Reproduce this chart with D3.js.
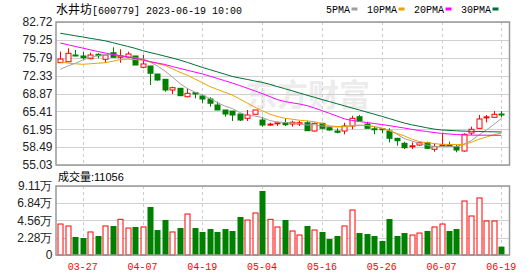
<!DOCTYPE html>
<html><head><meta charset="utf-8">
<script src="https://cdn.jsdelivr.net/npm/d3@7"></script>
<style>body{margin:0;background:#fff}svg{display:block}</style>
</head><body><svg id="c" width="530" height="276"></svg>
<script>
const dates = ["03-22","03-23","03-24","03-27","03-28","03-29","03-30","03-31","04-03","04-04","04-06","04-07","04-10","04-11","04-12","04-13","04-14","04-17","04-18","04-19","04-20","04-21","04-24","04-25","04-26","04-27","04-28","05-04","05-05","05-08","05-09","05-10","05-11","05-12","05-15","05-16","05-17","05-18","05-19","05-22","05-23","05-24","05-25","05-26","05-29","05-30","05-31","06-01","06-02","06-05","06-06","06-07","06-08","06-09","06-12","06-13","06-14","06-15","06-16","06-19"];
const open  = [74.84,75.03,76.33,76.14,75.61,76.46,75.50,76.78,75.88,75.88,76.14,73.95,74.20,72.65,71.62,69.55,69.88,68.25,69.03,68.39,67.81,66.65,65.68,65.48,64.90,64.07,64.85,63.74,62.85,63.05,63.22,62.97,62.97,63.22,61.61,63.10,62.26,61.61,61.61,62.58,64.38,62.97,62.05,62.05,61.61,60.20,59.23,58.60,58.90,59.35,58.07,58.85,58.95,58.57,57.74,61.22,62.13,64.20,64.26,64.90];
const close = [75.55,76.66,76.14,75.81,76.33,76.19,76.33,75.88,76.14,76.52,74.39,74.59,72.79,71.49,69.55,70.00,68.45,68.91,68.78,67.81,66.98,65.68,64.90,64.71,63.74,64.71,65.68,62.77,62.95,63.20,62.83,63.30,63.22,61.67,63.10,62.13,61.81,61.36,62.58,64.07,63.61,62.13,61.95,61.95,60.20,59.73,58.38,58.75,59.35,58.26,58.57,58.95,58.85,57.93,60.97,61.94,63.94,64.35,64.85,64.80];
const high  = [76.97,77.63,77.30,76.97,76.78,76.66,76.33,77.82,77.43,76.97,76.14,76.33,74.20,72.65,71.62,70.19,69.88,69.88,69.03,68.72,68.14,67.29,65.68,65.48,64.90,65.68,65.68,64.38,63.22,63.41,64.07,63.61,63.61,63.61,63.22,63.22,62.45,62.13,63.22,64.57,64.71,63.41,62.58,62.13,62.13,60.20,59.54,59.42,59.54,59.54,59.23,61.16,59.54,58.90,61.16,62.45,64.71,64.71,65.48,65.48];
const low   = [74.84,75.00,76.10,75.36,75.50,75.70,74.84,75.88,74.84,75.69,74.39,73.75,70.52,71.35,69.22,68.78,68.45,68.14,67.94,66.98,66.32,65.68,64.38,63.55,63.55,63.55,64.85,62.45,62.58,62.58,62.58,62.45,62.58,61.67,61.48,61.94,61.67,61.16,60.97,61.94,63.61,62.13,60.97,61.16,59.39,58.77,58.13,58.13,58.71,58.13,57.60,58.71,58.57,57.49,57.60,60.84,62.13,63.30,64.26,64.26];
const volume = [4.09,3.83,2.38,2.24,3.04,2.51,3.83,3.83,4.71,3.56,3.70,3.70,6.34,3.30,4.62,3.04,3.56,5.41,3.56,3.04,3.43,3.04,3.43,3.17,5.02,4.62,5.55,8.45,4.71,3.70,4.62,3.17,2.64,3.83,3.30,3.04,2.11,2.51,3.83,5.94,2.90,2.77,2.51,1.85,4.75,2.51,2.90,2.64,2.90,3.17,3.70,4.09,3.17,3.43,7.13,5.15,7.53,4.49,4.49,1.1056];
const ma5  = [73.56,74.20,74.72,75.36,75.85,76.23,76.37,76.43,76.17,75.94,75.79,75.65,74.97,74.20,73.23,72.07,70.81,69.84,69.16,68.58,67.91,67.13,66.45,65.97,65.19,64.61,64.52,64.23,63.65,63.36,63.26,63.16,63.06,62.77,62.81,62.58,62.48,62.39,62.43,62.68,62.74,62.68,62.48,62.19,61.71,61.03,60.16,59.68,59.29,58.90,58.61,58.61,58.61,58.61,59.09,59.77,60.84,61.81,62.87,64.03];
const ma10 = [74.97,74.78,74.63,74.53,74.63,74.74,74.84,75.11,75.44,75.52,75.44,75.32,75.01,74.66,74.32,73.66,72.98,72.42,71.68,70.98,70.23,69.67,69.13,68.58,67.81,67.03,66.26,65.56,64.90,64.44,64.09,63.90,63.70,63.57,63.41,63.06,62.62,62.48,62.52,62.58,62.70,62.72,62.44,62.14,61.71,61.15,60.68,60.06,59.56,59.37,59.19,59.04,59.02,59.00,59.00,59.44,60.01,60.45,60.88,61.22];
const ma20 = [78.65,78.32,77.99,77.67,77.34,77.01,76.72,76.45,76.21,75.98,75.69,75.40,75.05,74.78,74.49,74.10,73.73,73.37,73.02,72.67,72.24,71.80,71.35,70.91,70.42,69.90,69.40,68.87,68.29,67.71,67.33,67.07,66.84,66.53,66.07,65.56,65.04,64.52,63.97,63.65,63.45,63.26,63.06,62.87,62.66,62.43,62.19,61.94,61.71,61.52,61.32,61.15,61.03,60.93,60.84,60.82,60.80,60.80,60.78,60.78];
const ma30 = [80.53,80.30,80.05,79.82,79.56,79.33,79.08,78.73,78.36,78.00,77.63,77.18,76.81,76.47,76.10,75.75,75.34,74.90,74.41,73.93,73.50,73.06,72.63,72.17,71.88,71.60,71.31,71.04,70.66,70.23,69.82,69.40,68.97,68.54,68.14,67.71,67.31,66.90,66.49,66.09,65.68,65.27,64.87,64.46,64.03,63.59,63.16,62.81,62.54,62.25,61.98,61.81,61.73,61.65,61.59,61.55,61.52,61.48,61.46,61.42];
const priceTicks = [82.72,79.25,75.79,72.33,68.87,65.41,61.95,58.49,55.03];
const volumeTicks = [0,2.28,4.56,6.84,9.11];
const dateTicks = ["03-27","04-07","04-19","05-04","05-16","05-26","06-07","06-19"];
const maNames = ["5PMA","10PMA","20PMA","30PMA"];
const title = "水井坊[600779] 2023-06-19 10:00";
const lastVolume = "11056";

const RED = "#ff0000", GREEN = "#008000";
const maColors = ["#a0a0a0","#f0a000","#ff00ff","#006f35"];
const L = 56, R = 509.5, PT = 22, PB = 165, VT = 186, VB = 255;
const svg = d3.select("#c");
const x = d3.scalePoint().domain(dates).range([60.3, 501.3]);
const y = d3.scaleLinear().domain([55.03, 82.72]).range([PB, PT]);
const yv = d3.scaleLinear().domain([0, 9.11]).range([VB, VT]);
const mono = "'Liberation Mono','DejaVu Sans Mono',monospace";
const cjk = "'Noto Sans CJK SC',sans-serif";
const sans = "'Liberation Sans',Arial,sans-serif";

// watermark
svg.append("text").attr("x", 246).attr("y", 106).attr("font-family", cjk).attr("font-weight", "bold")
  .attr("font-size", 31).attr("fill", "#ececec").text("东方财富");

// grids
function hgrid(scale, ticks) {
  svg.append("g").selectAll("line").data(ticks).join("line")
    .attr("x1", L).attr("x2", R).attr("y1", d => Math.round(scale(d)) + 0.5).attr("y2", d => Math.round(scale(d)) + 0.5)
    .attr("stroke", "#d0d0d0").attr("stroke-width", 1);
}
hgrid(y, priceTicks);
hgrid(yv, volumeTicks);
[[PT, PB], [VT, VB]].forEach(([t, b]) => {
  svg.append("g").selectAll("line").data(dateTicks).join("line")
    .attr("x1", d => Math.round(x(d)) + 0.5).attr("x2", d => Math.round(x(d)) + 0.5)
    .attr("y1", t).attr("y2", b).attr("stroke", "#cccccc").attr("stroke-dasharray", "3,3");
});

// candles
const idx = d3.range(dates.length);
const cg = svg.append("g");
idx.forEach(i => {
  const up = close[i] >= open[i];
  const col = up ? RED : GREEN;
  const cx = Math.round(x(dates[i])) + 0.5;
  const top = y(Math.max(open[i], close[i])), bot = y(Math.min(open[i], close[i]));
  cg.append("line").attr("x1", cx).attr("x2", cx).attr("y1", y(high[i])).attr("y2", y(low[i])).attr("stroke", col);
  const h = Math.max(bot - top, 1);
  if (up) {
    cg.append("rect").attr("x", cx - 2.5).attr("y", top).attr("width", 5).attr("height", h)
      .attr("fill", "#fff").attr("stroke", col).attr("stroke-width", 1);
  } else {
    cg.append("rect").attr("x", cx - 3).attr("y", top - 0.5).attr("width", 6).attr("height", h + 1).attr("fill", col);
  }
});

// MA lines
svg.append("clipPath").attr("id", "pc").append("rect").attr("x", L).attr("y", PT).attr("width", R - L).attr("height", PB - PT);
[ma5, ma10, ma20, ma30].forEach((arr, k) => {
  const line = d3.line().x((d, i) => x(dates[i])).y(d => y(d));
  svg.append("path").attr("d", line(arr)).attr("fill", "none").attr("stroke", maColors[k])
    .attr("stroke-width", 1).attr("clip-path", "url(#pc)");
});

// volume bars
const vg = svg.append("g");
idx.forEach(i => {
  const up = close[i] >= open[i];
  const cx = Math.round(x(dates[i])) + 0.5;
  if (up) {
    vg.append("rect").attr("x", cx - 2.5).attr("y", yv(volume[i])).attr("width", 5).attr("height", VB - yv(volume[i]))
      .attr("fill", "#fff").attr("stroke", RED).attr("stroke-width", 1);
  } else {
    vg.append("rect").attr("x", cx - 3).attr("y", yv(volume[i])).attr("width", 6).attr("height", VB - yv(volume[i])).attr("fill", GREEN);
  }
});

// frames
[[PT, PB], [VT, VB]].forEach(([t, b]) => {
  svg.append("rect").attr("x", L).attr("y", t).attr("width", R - L).attr("height", b - t)
    .attr("fill", "none").attr("stroke", "#999").attr("stroke-width", 1.5);
});

// axes labels
svg.append("g").selectAll("text").data(priceTicks).join("text")
  .attr("x", 52.5).attr("y", d => y(d) + 4.3).attr("text-anchor", "end")
  .attr("font-family", sans).attr("font-size", 12).attr("fill", "#222").text(d => d.toFixed(2));
svg.append("g").selectAll("text").data(volumeTicks).join("text")
  .attr("x", 52.5).attr("y", d => yv(d) + 4.3).attr("text-anchor", "end")
  .attr("font-family", sans).attr("font-size", 12).attr("fill", "#222")
  .text(d => d === 0 ? "0" : d.toFixed(2) + "万");
svg.append("g").selectAll("text").data(dateTicks).join("text")
  .attr("x", d => x(d)).attr("y", 270).attr("text-anchor", "middle")
  .attr("font-family", mono).attr("font-size", 10).attr("fill", RED).text(d => d);

// title
const t = svg.append("text").attr("x", 56).attr("y", 14).attr("fill", "#000");
t.append("tspan").attr("font-family", cjk).attr("font-size", 12).text(title.slice(0, 3));
t.append("tspan").attr("font-family", mono).attr("font-size", 10).text(title.slice(3));

// legend
const lg = svg.append("g");
let lx = 326;
maNames.forEach((n, k) => {
  lg.append("text").attr("x", lx).attr("y", 13).attr("font-family", mono).attr("font-size", 10).attr("fill", "#000").text(n);
  const w = n.length * 6;
  lg.append("rect").attr("x", lx + w + 1.5).attr("y", 7.5).attr("width", 6).attr("height", 3).attr("fill", maColors[k]);
  lx += w + 17;
});

// volume title
const vt = svg.append("text").attr("x", 58).attr("y", 181).attr("fill", "#000");
vt.append("tspan").attr("font-family", cjk).attr("font-size", 11).text("成交量");
vt.append("tspan").attr("font-family", sans).attr("font-size", 11).text(":" + lastVolume);
</script></body></html>
